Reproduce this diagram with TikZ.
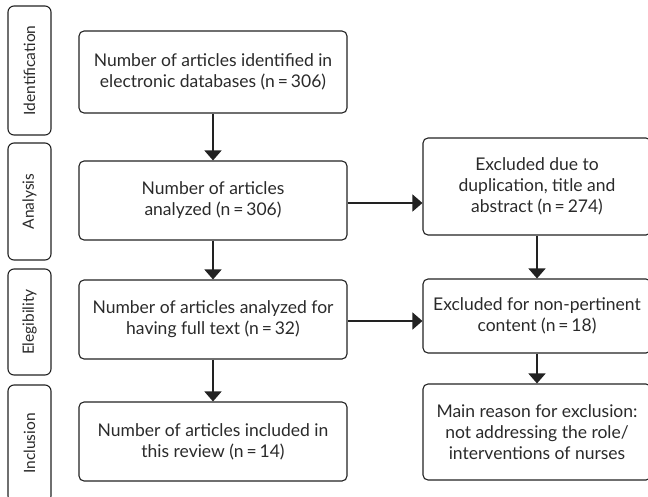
\documentclass[tikz,border=0pt]{standalone}
\usepackage{fontspec}
\setmainfont{Lato}
\usetikzlibrary{arrows.meta}
\definecolor{ink}{HTML}{222222}
\definecolor{txt}{HTML}{2a2a2a}
\tikzset{
  box/.style={draw=ink, line width=1.1pt, rounded corners=5pt, align=center,
    inner sep=0pt, text=txt, font=\fontsize{17.5}{21}\selectfont},
  side/.style={draw=ink, line width=1.1pt, rounded corners=6pt, inner sep=0pt,
    text=txt, font=\fontsize{15.5}{18}\selectfont},
  flow/.style={draw=ink, line width=1.6pt, -{Triangle[length=10pt,width=17pt]}},
}
\newcommand{\boxat}[6]{% name, x1, y1, x2, y2, text
  \node[box, minimum width={(#4-#2)*1pt}, minimum height={(#5-#3)*1pt}]
    (#1) at ({(#2+#4)/2},{(#3+#5)/2}) {#6};}
\newcommand{\sideat}[6]{%
  \node[side, minimum width={(#5-#3)*1pt}, minimum height={(#4-#2)*1pt}, rotate=90]
    (#1) at ({(#2+#4)/2},{(#3+#5)/2}) {#6};}
\begin{document}
\begin{tikzpicture}[x=1pt,y=-1pt]
\useasboundingbox (0,0) rectangle (648,496);
\begin{scope}
\clip (0,0) rectangle (648,496);
\sideat{s1}{8}{6}{51}{135}{Identification}
\sideat{s2}{8}{143}{51}{260}{Analysis}
\sideat{s3}{8}{269}{51}{375}{Elegibility}
\sideat{s4}{8}{385}{51}{502}{Inclusion}
\boxat{l1}{79}{31}{347}{113}{Number of articles identified in\\electronic databases (n\,=\,306)}
\boxat{l2}{79}{161}{347}{240}{Number of articles\\analyzed (n\,=\,306)}
\boxat{l3}{79}{280}{347}{359}{Number of articles analyzed for\\having full text (n\,=\,32)}
\boxat{l4}{79}{402}{347}{481}{Number of articles included in\\this review (n\,=\,14)}
\boxat{r1}{423}{138}{651}{235}{Excluded due to\\duplication, title and\\abstract (n\,=\,274)}
\boxat{r2}{423}{279}{651}{353}{Excluded for non-pertinent\\content (n\,=\,18)}
\boxat{r3}{423}{384}{651}{480}{Main reason for exclusion:\\not addressing the role/\\interventions of nurses}
\end{scope}
\draw[flow] (l1.south) -- (l2.north);
\draw[flow] (l2.south) -- (l3.north);
\draw[flow] (l3.south) -- (l4.north);
\draw[flow] ([yshift=-2.5pt]l2.east) -- ([yshift=-2.5pt]l2.east -| r1.west);
\draw[flow] ([yshift=-1.5pt]l3.east) -- ([yshift=-1.5pt]l3.east -| r2.west);
\draw[flow] (r1.south) -- (r2.north);
\draw[flow] (r2.south) -- (r3.north);
\end{tikzpicture}
\end{document}
